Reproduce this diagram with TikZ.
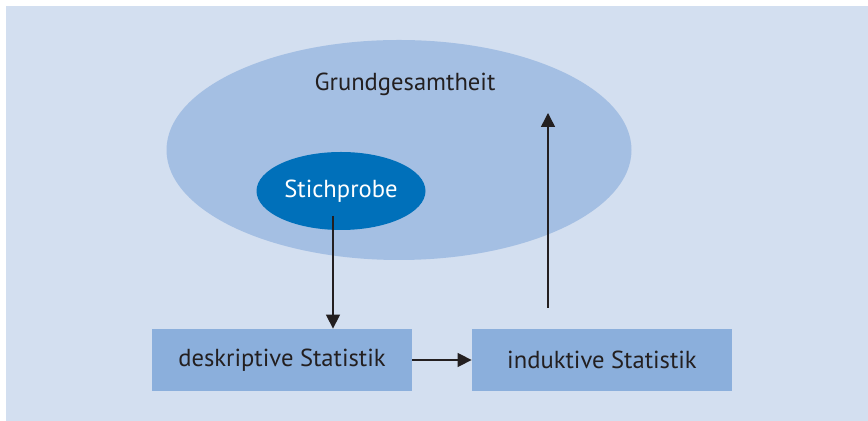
\documentclass[tikz,border=0pt]{standalone}
\usepackage{fontspec}
\setmainfont{PT Sans}
\usetikzlibrary{arrows.meta,shapes.geometric}

\definecolor{grund}{HTML}{D3DFF0}
\definecolor{gesamt}{HTML}{A4BFE3}
\definecolor{probe}{HTML}{0070BA}
\definecolor{kasten}{HTML}{8BAFDC}
\definecolor{schrift}{HTML}{231F20}

\begin{document}
\begin{tikzpicture}[x=0.5pt,y=-0.5pt,font=\fontsize{12.3}{14}\selectfont,
	text=schrift, >={Triangle[length=7pt,width=7pt]},
	statbox/.style={fill=kasten, minimum width=130pt, minimum height=31pt, inner sep=0pt},
	pfeil/.style={->, line width=0.75pt, draw=schrift}]
	\useasboundingbox (0,0) rectangle (868,421);
	\fill[grund] (6,6) rectangle (868,421);
	% Grundgesamtheit mit Stichprobe
	\fill[gesamt] (399,150) ellipse [x radius=232.5, y radius=110];
	\node (gg) at (405,84) {Grundgesamtheit};
	\node[ellipse, fill=probe, text=white, minimum width=84.5pt, minimum height=39pt, inner sep=0pt] (stich) at (341,191) {Stichprobe};
	% die beiden Statistiken
	\node[statbox] (desk) at (282,360) {deskriptive Statistik};
	\node[statbox] (ind) at (602,360) {induktive Statistik};
	\coordinate (ab) at (333,216);
	\coordinate (auf) at (548,308);
	\coordinate (ziel) at (548,113);
	\draw[pfeil] (ab) -- (ab |- desk.north);
	\draw[pfeil] (desk) -- (ind);
	\draw[pfeil] (auf) -- (ziel);
\end{tikzpicture}
\end{document}
